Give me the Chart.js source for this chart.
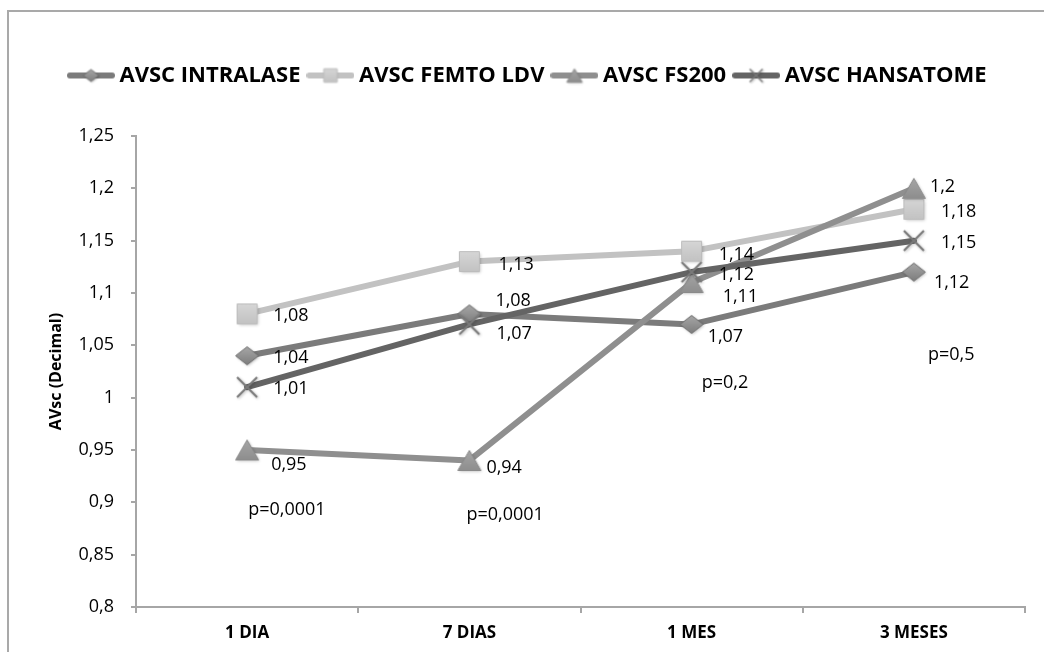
<!DOCTYPE html>
<html><head><meta charset="utf-8">
<script src="https://cdn.jsdelivr.net/npm/chart.js@4/dist/chart.umd.min.js"></script>
<style>
html,body{margin:0;padding:0;background:#fff;}
#wrap{position:relative;width:1044px;height:652px;overflow:hidden;background:#fff;}
#frame{position:absolute;left:7px;top:10px;width:1100px;height:700px;border-top:2px solid #a9a9a9;border-left:2px solid #a9a9a9;pointer-events:none;}
canvas{position:absolute;left:0;top:0;}
</style></head><body>
<div id="wrap"><canvas id="c" width="1044" height="652"></canvas><div id="frame"></div></div>
<script>
// ---- data ----
const categories = ['1 DIA', '7 DIAS', '1 MES', '3 MESES'];
const seriesNames = ['AVSC INTRALASE', 'AVSC FEMTO LDV', 'AVSC FS200', 'AVSC HANSATOME'];
const intralase = [1.04, 1.08, 1.07, 1.12];
const femtoLdv  = [1.08, 1.13, 1.14, 1.18];
const fs200     = [0.95, 0.94, 1.11, 1.2];
const hansatome = [1.01, 1.07, 1.12, 1.15];
const yTickLabels = ['0,8', '0,85', '0,9', '0,95', '1', '1,05', '1,1', '1,15', '1,2', '1,25'];
const yAxisTitle = 'AVsc (Decimal)';
const pValueTexts = ['p=0,0001', 'p=0,0001', 'p=0,2', 'p=0,5'];
const pValueLevels = [0.893, 0.888, 1.014, 1.041];

// ---- styling ----
const FONT = '"Open Sans", "DejaVu Sans", sans-serif';
const Y_MIN = 0.8, Y_MAX = 1.25, Y_STEP = 0.05;
const lineColors = ['#7b7b7b', '#c2c2c2', '#8f8f8f', '#646464'];
// label offsets [dx, dy] in px from each point
const labelOffsets = [
  [[26, 2], [26, -13], [16, 12], [20, 11]],
  [[26, 2], [29, 3], [27, 4], [27, 3]],
  [[24, 15], [17, 7], [31, 14], [16, -1]],
  [[26, 2], [27, 9], [27, 3], [27, 2]]
];
const pValueDx = [1, -3, 10, 14];

function makeMarker(type, s) {
  const pad = 4;
  const sizes = {diamond: [24, 19], square: [21, 21], triangle: [24, 21], cross: [22, 22]};
  const [w0, h0] = sizes[type];
  const w = w0 * s, h = h0 * s;
  const c = document.createElement('canvas');
  c.width = Math.ceil(w + pad * 2); c.height = Math.ceil(h + pad * 2);
  const g = c.getContext('2d');
  g.translate((c.width - w) / 2, (c.height - h) / 2);
  g.shadowColor = 'rgba(0,0,0,0.25)'; g.shadowBlur = 3 * s; g.shadowOffsetX = 1; g.shadowOffsetY = 1;
  const grad = (a, b) => { const gr = g.createLinearGradient(0, 0, 0, h); gr.addColorStop(0, a); gr.addColorStop(1, b); return gr; };
  g.lineWidth = 1;
  if (type === 'diamond') {
    g.beginPath(); g.moveTo(w / 2, 0.5); g.lineTo(w - 0.5, h / 2); g.lineTo(w / 2, h - 0.5); g.lineTo(0.5, h / 2); g.closePath();
    g.fillStyle = grad('#a8a8a8', '#7c7c7c'); g.fill(); g.shadowColor = 'transparent'; g.strokeStyle = '#6f6f6f'; g.stroke();
  } else if (type === 'square') {
    g.beginPath(); g.rect(0.5, 0.5, w - 1, h - 1);
    g.fillStyle = grad('#d6d6d6', '#c2c2c2'); g.fill(); g.shadowColor = 'transparent'; g.strokeStyle = '#bcbcbc'; g.stroke();
  } else if (type === 'triangle') {
    g.beginPath(); g.moveTo(w / 2, 0.5); g.lineTo(w - 0.5, h - 0.5); g.lineTo(0.5, h - 0.5); g.closePath();
    g.fillStyle = grad('#a6a6a6', '#8d8d8d'); g.fill(); g.shadowColor = 'transparent'; g.strokeStyle = '#8a8a8a'; g.stroke();
  } else {
    g.beginPath(); g.moveTo(1, 1); g.lineTo(w - 1, h - 1); g.moveTo(w - 1, 1); g.lineTo(1, h - 1);
    g.strokeStyle = '#7a7a7a'; g.lineWidth = 2.2 * s; g.stroke();
  }
  return c;
}
const markerTypes = ['diamond', 'square', 'triangle', 'cross'];
const pointMarkers = markerTypes.map(t => makeMarker(t, 1));
function makeLegendIcon(i) {
  const c = document.createElement('canvas');
  c.width = 48; c.height = 20;
  const g = c.getContext('2d');
  g.strokeStyle = lineColors[i]; g.lineWidth = 6; g.lineCap = 'round';
  g.beginPath(); g.moveTo(3, 10); g.lineTo(45, 10); g.stroke();
  const m = makeMarker(markerTypes[i], 0.68);
  g.drawImage(m, (48 - m.width) / 2, (20 - m.height) / 2);
  return c;
}
const legendIcons = [0, 1, 2, 3].map(makeLegendIcon);

const seriesData = [intralase, femtoLdv, fs200, hansatome];
const fmt = v => String(v).replace('.', ',');

const LEGEND_BOX = 35, LEGEND_ICON_W = 48, LEGEND_FIRST_X = 67;
const tweaks = {
  id: 'tweaks',
  afterInit(chart) {
    const lg = chart.legend;
    const fit = lg.fit;
    lg.fit = function () { fit.call(this); this.height = 84; };
    const draw = lg.draw;
    lg.draw = function () {
      const hb = this.legendHitBoxes && this.legendHitBoxes[0];
      const shift = hb ? LEGEND_FIRST_X - (hb.left + LEGEND_BOX / 2 - LEGEND_ICON_W / 2) : 0;
      const ctx = this.ctx; ctx.save(); ctx.translate(shift, 0); draw.call(this); ctx.restore();
    };
  },
  afterDatasetsDraw(chart) {
    const ctx = chart.ctx;
    ctx.save();
    ctx.font = '18px ' + FONT; ctx.fillStyle = '#000'; ctx.textAlign = 'left'; ctx.textBaseline = 'middle';
    chart.data.datasets.forEach((ds, di) => {
      const meta = chart.getDatasetMeta(di);
      meta.data.forEach((pt, i) => {
        const [dx, dy] = labelOffsets[di][i];
        ctx.fillText(fmt(ds.data[i]), pt.x + dx, pt.y + dy);
      });
    });
    const xs = chart.scales.x, ys = chart.scales.y;
    pValueTexts.forEach((t, i) => {
      ctx.fillText(t, xs.getPixelForValue(i) + pValueDx[i], ys.getPixelForValue(pValueLevels[i]));
    });
    ctx.restore();
  }
};

Chart.defaults.font.family = FONT;
new Chart(document.getElementById('c'), {
  type: 'line',
  data: {
    labels: categories,
    datasets: seriesData.map((d, i) => ({
      label: seriesNames[i],
      data: d,
      borderColor: lineColors[i],
      backgroundColor: lineColors[i],
      borderWidth: 6,
      borderCapStyle: 'round',
      borderJoinStyle: 'round',
      tension: 0,
      fill: false,
      pointStyle: pointMarkers[i],
      pointRadius: 10,
      order: 3 - i
    }))
  },
  options: {
    responsive: false,
    animation: false,
    devicePixelRatio: 1,
    layout: {padding: {top: 52, left: 0, right: 19, bottom: 0}},
    plugins: {
      tooltip: {enabled: false},
      legend: {
        position: 'top',
        align: 'center',
        labels: {
          usePointStyle: true,
          pointStyleWidth: LEGEND_BOX,
          padding: 12.5,
          color: '#000',
          font: {family: FONT, size: 22, weight: 'bold'},
          generateLabels: (chart) => chart.data.datasets.map((ds, i) => ({
            text: ds.label, pointStyle: legendIcons[i], fillStyle: 'transparent',
            strokeStyle: 'transparent', lineWidth: 0, hidden: false, datasetIndex: i,
            fontColor: '#000', rotation: 0
          }))
        }
      }
    },
    scales: {
      x: {
        type: 'category',
        offset: true,
        grid: {offset: true, drawOnChartArea: false, drawTicks: true, tickLength: 6, color: '#a6a6a6', lineWidth: 2},
        border: {display: true, color: '#a6a6a6', width: 2},
        ticks: {color: '#000', font: {family: FONT, size: 17, weight: 'bold'}, padding: 10, maxRotation: 0, autoSkip: false},
        afterFit(s) { s.height = 45; }
      },
      y: {
        min: Y_MIN, max: Y_MAX,
        grid: {drawOnChartArea: false, drawTicks: true, tickLength: 5, color: '#a6a6a6', lineWidth: 2},
        border: {display: true, color: '#a6a6a6', width: 2},
        ticks: {
          stepSize: Y_STEP, color: '#000', padding: 17,
          font: {family: FONT, size: 18},
          callback: (v) => yTickLabels[Math.round((v - Y_MIN) / Y_STEP)]
        },
        title: {display: true, text: yAxisTitle, color: '#000', font: {family: FONT, size: 16, weight: 'bold'}, padding: {top: 47, bottom: 0}},
        afterFit(s) { s.width = 136; }
      }
    }
  },
  plugins: [tweaks]
});
</script>
</body></html>
